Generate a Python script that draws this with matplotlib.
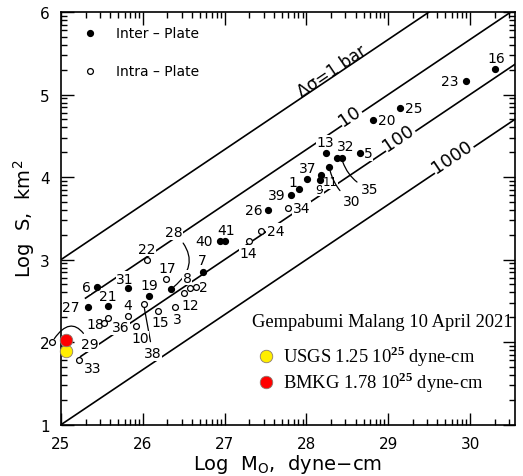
import numpy as np
import matplotlib
matplotlib.use("Agg")
import matplotlib.pyplot as plt

plt.rcParams['font.family'] = ['DejaVu Sans']
plt.rcParams['mathtext.fontset'] = 'custom'
plt.rcParams['mathtext.rm'] = 'Liberation Serif'
plt.rcParams['mathtext.bf'] = 'Liberation Serif:bold'

# ---------------- data ----------------
inter_ids = ['6', '27', '21', '31', '19', '28', '7', '40', '41', '26', '39', '1', '37',
             '9', '11', '30', '13', '32', '35', '5', '20', '25', '23', '16']
inter_x = [25.44, 25.33, 25.57, 25.82, 26.08, 26.34, 26.73, 26.94, 27.00, 27.53, 27.81, 27.91, 28.01,
           28.17, 28.18, 28.28, 28.24, 28.38, 28.43, 28.65, 28.82, 29.14, 29.95, 30.31]
inter_y = [2.67, 2.42, 2.44, 2.66, 2.56, 2.64, 2.85, 3.22, 3.22, 3.60, 3.78, 3.86, 3.98,
           3.97, 4.03, 4.12, 4.29, 4.23, 4.23, 4.29, 4.69, 4.84, 5.17, 5.31]

intra_ids = ['22', '17', '8', '2', '12', '14', '24', '34', '4', '38', '15', '3', '18', '36', '10', '29', '33']
intra_x = [26.05, 26.28, 26.58, 26.65, 26.50, 27.30, 27.45, 27.78, 25.82, 26.01, 26.18, 26.39,
           25.53, 25.58, 25.92, 24.89, 25.22]
intra_y = [3.00, 2.76, 2.66, 2.67, 2.60, 3.23, 3.35, 3.62, 2.32, 2.46, 2.38, 2.42,
           2.23, 2.29, 2.19, 2.00, 1.78]

stress_bars = [1, 10, 100, 1000]
stress_labels = ['Δσ=1 bar', '10', '100', '1000']

malang_sources = ['USGS', 'BMKG']
malang_logM0 = [25.06, 25.06]
malang_logS = [1.89, 2.03]
malang_text = ['USGS 1.25 10$^{\\mathbf{25}}$ dyne-cm', 'BMKG 1.78 10$^{\\mathbf{25}}$ dyne-cm']
malang_colors = ['#ffee00', '#ff0000']

x_major = [25, 26, 27, 28, 29, 30]
y_major = [1, 2, 3, 4, 5, 6]

# ---------------- styling / positions ----------------
label_off = {  # pixel offsets (dx, dy) of point labels
    '6': (-11, 0), '27': (-17, 0), '21': (0, 10), '31': (-3, 9), '19': (0, 11),
    '7': (0, 12), '40': (-16, 0), '41': (2, 11), '26': (-14, 0), '39': (-14, 0),
    '1': (-6, 7), '37': (0, 11), '9': (-1, -10), '11': (9, -7), '13': (-1, 11),
    '32': (8, 12), '5': (9, 0), '20': (13, 0), '25': (14, 0), '23': (-16, 0), '16': (1, 11),
    '22': (0, 11), '17': (2, 11), '8': (-3, 10), '2': (7, 0), '12': (7, -12),
    '14': (-1, -12), '24': (14, 0), '34': (13, 0), '4': (0, 11), '15': (3, -11),
    '3': (3, -12), '18': (-9, -1), '36': (12, -9), '10': (4, -12), '33': (14, -8),
}
small_labels = {'9': 9, '11': 8.5}
leader_off = {  # labels connected with leader lines
    '28': ((3, 57), 'arc3,rad=-0.6'),
    '30': ((22, -34), 'arc3,rad=-0.2'),
    '35': ((28, -31), 'arc3,rad=-0.25'),
    '38': ((9, -49), 'arc3,rad=0.0'),
    '29': ((38, -2), 'arc3,rad=0.9'),
}

W, H, DPI = 523, 477, 100
fig = plt.figure(figsize=(W / DPI, H / DPI), dpi=DPI)
left, right, top, bottom = 61, 515, 13, 425.7
ax = fig.add_axes([left / W, (H - bottom) / H, (right - left) / W, (bottom - top) / H])
xmin, xmax = 25, 25 + (right - left) / 81.8
ax.set_xlim(xmin, xmax)
ax.set_ylim(1, 6)

# stress-drop lines
px_x = (right - left) / (xmax - xmin)
px_y = (bottom - top) / 5
ang = np.degrees(np.arctan(2 / 3 * px_y / px_x))
line_start = [25.0, 25.3, 25.24, 25.0]
line_label_x = [28.31, 28.53, 29.12, 29.78]
line_label_dy = [0.08, 0.06, 0.07, 0.06]
line_label_fs = [12, 13, 13, 13]
for s, lab, x0, lx, dy, fs in zip(stress_bars, stress_labels, line_start, line_label_x,
                                  line_label_dy, line_label_fs):
    a = 3 - 2 / 3 * np.log10(s)
    xx = np.array([x0, xmax])
    ax.plot(xx, a + 2 / 3 * (xx - 25), color='black', lw=1.2, zorder=1)
    bb = None if s == 1 else dict(facecolor='white', edgecolor='none', pad=0.5)
    ax.text(lx, a + 2 / 3 * (lx - 25) + dy, lab, rotation=ang, rotation_mode='anchor',
            ha='center', va='center', fontsize=fs, bbox=bb, zorder=2)

# points
ax.plot(inter_x, inter_y, 'o', color='black', ms=4.2, zorder=5, clip_on=False)
ax.plot(intra_x, intra_y, 'o', mfc='white', mec='black', mew=0.9, ms=4.2, zorder=5, clip_on=False)

ids = inter_ids + intra_ids
xs = inter_x + intra_x
ys = inter_y + intra_y
for i, x, y in zip(ids, xs, ys):
    fs = small_labels.get(i, 10)
    if i in label_off:
        dx, dy = label_off[i]
        ax.annotate(i, (x, y), xytext=(dx * 0.72, dy * 0.72), textcoords='offset points',
                    ha='center', va='center', fontsize=fs, zorder=3,
                    bbox=dict(facecolor='white', edgecolor='none', pad=0.3))
    elif i in leader_off:
        (dx, dy), cs = leader_off[i]
        ax.annotate(i, (x, y), xytext=(dx * 0.72, dy * 0.72), textcoords='offset points',
                    ha='center', va='center', fontsize=fs, zorder=3, annotation_clip=False,
                    bbox=dict(facecolor='white', edgecolor='none', pad=0.3),
                    arrowprops=dict(arrowstyle='-', lw=0.9, color='black', connectionstyle=cs,
                                    shrinkA=3, shrinkB=3))

# Malang earthquake
for src, x, y, c in zip(malang_sources, malang_logM0, malang_logS, malang_colors):
    ax.plot(x, y, 'o', color=c, mec='#8a7a70', mew=0.6, ms=9, zorder=6, clip_on=False)

# legend (top-left)
ax.plot(25.355, 5.74, 'o', color='black', ms=4.2)
ax.plot(25.355, 5.29, 'o', mfc='white', mec='black', mew=0.9, ms=4.2)
ax.text(25.67, 5.74, 'Inter – Plate', fontsize=10, va='center', ha='left')
ax.text(25.67, 5.29, 'Intra – Plate', fontsize=10, va='center', ha='left')

# Malang note
ax.text(27.34, 2.25, 'Gempabumi Malang 10 April 2021', family='Liberation Serif', fontsize=13.3,
        va='center', ha='left')
note_mx = [27.5, 27.5]
note_my = [1.83, 1.52]
for x, y, c, t in zip(note_mx, note_my, malang_colors, malang_text):
    ax.plot(x, y, 'o', color=c, mec='#8a7a70', mew=0.6, ms=9, zorder=6)
    ax.text(x + 0.22, y, t, family='Liberation Serif', fontsize=13.3, va='center', ha='left')

# ticks
def minors(lo, hi):
    out = []
    for k in range(lo, hi + 1):
        for m in range(2, 10):
            out.append(k + np.log10(m))
    return out

ax.set_xticks(x_major)
ax.set_xticks([v for v in minors(25, 30) if v < xmax], minor=True)
ax.set_yticks(y_major)
ax.set_yticks([v for v in minors(1, 5) if v < 6], minor=True)
ax.tick_params(which='both', direction='in', top=True, right=True, width=1.0)
ax.tick_params(which='major', length=9, labelsize=11, pad=8)
ax.tick_params(which='minor', length=4.5)
for sp in ax.spines.values():
    sp.set_linewidth(1.2)

ax.set_xlabel('Log  M$_\\mathregular{O}$,  dyne−cm', fontsize=14, labelpad=1)
ax.set_ylabel('Log  S,  km$^\\mathregular{2}$', fontsize=14, labelpad=2)

fig.savefig('out.png', dpi=DPI)
